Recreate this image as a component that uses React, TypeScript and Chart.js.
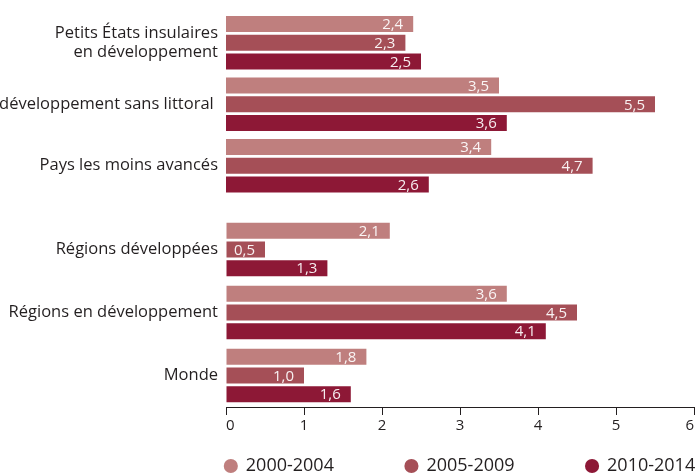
import React, { useEffect, useRef } from "react";
import { Chart, registerables } from "chart.js";

Chart.register(...registerables);

const SERIES = ["2000-2004", "2005-2009", "2010-2014"];
const COLORS = ["#BF7F7E", "#A54F57", "#8D1836"];
const TEXT = "#231f20";

const topCategories: (string | string[])[] = [
  ["Petits États insulaires", "en développement"],
  "Pays en développement sans littoral ",
  "Pays les moins avancés",
];
const top2000 = [2.4, 3.5, 3.4];
const top2005 = [2.3, 5.5, 4.7];
const top2010 = [2.5, 3.6, 2.6];

const bottomCategories = ["Régions développées", "Régions en développement", "Monde"];
const bottom2000 = [2.1, 3.6, 1.8];
const bottom2005 = [0.5, 4.5, 1.0];
const bottom2010 = [1.3, 4.1, 1.6];

const xTicks = [0, 1, 2, 3, 4, 5, 6];

const valueLabels = {
  id: "valueLabels",
  afterDatasetsDraw(chart: any) {
    const ctx = chart.ctx;
    ctx.save();
    ctx.font = "15px 'Open Sans'";
    ctx.fillStyle = "rgba(255,255,255,0.92)";
    ctx.textAlign = "right";
    ctx.textBaseline = "middle";
    chart.data.datasets.forEach((ds: any, i: number) => {
      const meta = chart.getDatasetMeta(i);
      meta.data.forEach((el: any, j: number) => {
        const v = ds.data[j];
        ctx.fillText(v.toFixed(1).replace(".", ","), el.x - 10, el.y + 1);
      });
    });
    ctx.restore();
  },
};

function makeDatasets(data: number[][], cp: number) {
  return SERIES.map((s, i) => ({
    label: s,
    data: data[i],
    backgroundColor: COLORS[i],
    borderWidth: 0,
    categoryPercentage: cp,
    barPercentage: 0.857,
  }));
}

const noPad = (s: any) => {
  s.paddingTop = 0;
  s.paddingBottom = 0;
  s.paddingLeft = 0;
  s.paddingRight = 0;
};

const yScale = () => ({
  grid: { display: false, drawTicks: false },
  border: { display: false },
  ticks: {
    color: TEXT,
    autoSkip: false,
    font: { size: 16.5, lineHeight: 1.15 },
    padding: 8,
  },
  afterFit: (s: any) => {
    s.width = 226;
    noPad(s);
  },
});

export default function App() {
  const topRef = useRef<HTMLCanvasElement>(null);
  const botRef = useRef<HTMLCanvasElement>(null);

  useEffect(() => {
    Chart.defaults.font.family = "'Open Sans', sans-serif";

    const top = new Chart(topRef.current!, {
      type: "bar",
      data: {
        labels: topCategories as any,
        datasets: makeDatasets([top2000, top2005, top2010], 0.91),
      },
      options: {
        indexAxis: "y",
        responsive: false,
        maintainAspectRatio: false,
        animation: false,
        layout: { padding: { top: 12, right: 0, bottom: 0, left: 0 } },
        scales: {
          x: {
            min: 0,
            max: 6,
            grid: { display: false },
            border: { display: false },
            ticks: { display: false },
            afterFit: (s: any) => {
              s.height = 189;
              noPad(s);
            },
          },
          y: yScale() as any,
          // invisible spacer on the right so the legend row sits under the plot
          yRight: {
            type: "category",
            position: "right",
            grid: { display: false, drawTicks: false },
            border: { display: false },
            ticks: { display: false },
            afterFit: (s: any) => {
              s.width = 226;
              noPad(s);
            },
          },
        },
        plugins: {
          legend: {
            position: "bottom",
            fullSize: true,
            labels: {
              usePointStyle: true,
              pointStyle: "circle",
              boxWidth: 12,
              boxHeight: 10,
              padding: 71.5,
              color: TEXT,
              font: { size: 18 },
            },
          },
          tooltip: { enabled: false },
        },
      } as any,
      plugins: [valueLabels],
    });

    const bot = new Chart(botRef.current!, {
      type: "bar",
      data: {
        labels: bottomCategories,
        datasets: makeDatasets([bottom2000, bottom2005, bottom2010], 0.889),
      },
      options: {
        indexAxis: "y",
        responsive: false,
        maintainAspectRatio: false,
        animation: false,
        layout: { padding: { top: 18, right: 2, bottom: 0, left: 0 } },
        scales: {
          x: {
            min: 0,
            max: 6,
            afterBuildTicks: (s: any) => {
              s.ticks = xTicks.map((v) => ({ value: v }));
            },
            grid: {
              display: true,
              drawOnChartArea: false,
              drawTicks: true,
              tickLength: 8,
              color: TEXT,
              lineWidth: 1,
            },
            border: { display: true, color: TEXT, width: 1 },
            ticks: { color: TEXT, font: { size: 15 }, padding: 2, align: "inner" },
            afterFit: (s: any) => {
              s.height = 67;
              noPad(s);
            },
          },
          y: yScale() as any,
        },
        plugins: {
          legend: { display: false },
          tooltip: { enabled: false },
        },
      } as any,
      plugins: [valueLabels],
    });

    return () => {
      top.destroy();
      bot.destroy();
    };
  }, []);

  return (
    <div
      style={{
        position: "absolute",
        left: 0,
        top: 0,
        width: 696,
        height: 474,
        overflow: "hidden",
        background: "#fff",
      }}
    >
      <canvas
        ref={botRef}
        width={696}
        height={274}
        style={{ position: "absolute", left: 0, top: 200 }}
      />
      <canvas
        ref={topRef}
        width={920}
        height={485}
        style={{ position: "absolute", left: 0, top: 0 }}
      />
    </div>
  );
}
